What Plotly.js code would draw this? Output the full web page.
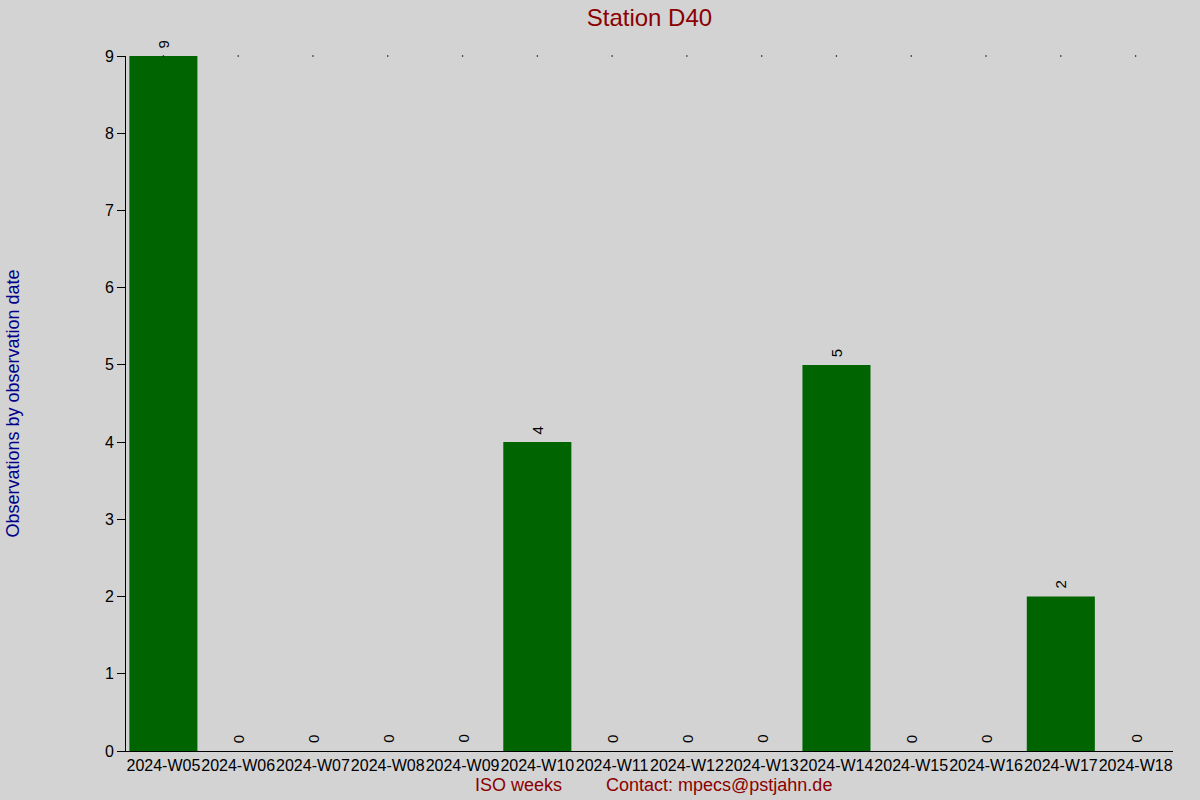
<!DOCTYPE html>
<html><head><meta charset="utf-8">
<script src="https://cdn.plot.ly/plotly-3.0.1.min.js"></script>
<style>body{margin:0;background:#d3d3d3;}#c{width:1200px;height:800px;}</style>
</head><body><div id="c"></div>
<script>
const weeks = ["2024-W05","2024-W06","2024-W07","2024-W08","2024-W09","2024-W10","2024-W11","2024-W12","2024-W13","2024-W14","2024-W15","2024-W16","2024-W17","2024-W18"];
const counts = [9,0,0,0,0,4,0,0,0,5,0,0,2,0];
const yTicks = [0,1,2,3,4,5,6,7,8,9];
const chartTitle = "Station D40";
const xTitle = "ISO weeks";
const contact = "Contact: mpecs@pstjahn.de";
const yTitle = "Observations by observation date";

const ymax = Math.max(...counts);
const font = "Liberation Sans, Arial, sans-serif";

const bars = {
  type: "bar", x: weeks, y: counts,
  marker: {color: "#006400"},
  width: 0.91,
  hoverinfo: "x+y"
};
const topDots = {
  type: "scatter", mode: "markers", x: weeks, y: weeks.map(() => ymax),
  marker: {color: "#000", size: 1.5}, cliponaxis: false, hoverinfo: "skip"
};

const valueLabels = weeks.map((w, i) => ({
  x: w, y: counts[i], xref: "x", yref: "y", text: String(counts[i]),
  textangle: -90, showarrow: false, xanchor: "center", yanchor: "bottom", yshift: 6,
  font: {family: font, size: 15, color: "#000"}
}));

const layout = {
  width: 1200, height: 800,
  paper_bgcolor: "#d3d3d3", plot_bgcolor: "#d3d3d3",
  margin: {l: 126, r: 27, t: 56, b: 49},
  showlegend: false,
  font: {family: font, size: 16, color: "#000"},
  title: {text: chartTitle, font: {family: font, size: 24, color: "#8b0000"}, x: 0.5412, xanchor: "center", y: 0.978, yanchor: "middle"},
  xaxis: {
    type: "category", showline: true, linecolor: "#000", linewidth: 1,
    ticks: "", showgrid: false, zeroline: false, tickangle: 0,
    tickfont: {family: font, size: 16, color: "#000"},
    range: [-0.5, weeks.length - 0.5]
  },
  yaxis: {
    range: [0, ymax], tickvals: yTicks, ticks: "outside", ticklen: 8, tickcolor: "#000",
    showline: true, linecolor: "#000", linewidth: 1, showgrid: false, zeroline: false,
    tickfont: {family: font, size: 16, color: "#000"},
    title: {text: yTitle, font: {family: font, size: 18, color: "#00008b"}, standoff: 80}
  },
  annotations: valueLabels.concat([
    {text: xTitle, xref: "paper", yref: "paper", x: (518-126)/1047, y: -0.049, xanchor: "center", yanchor: "middle", showarrow: false, font: {family: font, size: 18, color: "#8b0000"}},
    {text: contact, xref: "paper", yref: "paper", x: (719-126)/1047, y: -0.049, xanchor: "center", yanchor: "middle", showarrow: false, font: {family: font, size: 18, color: "#8b0000"}}
  ])
};
Plotly.newPlot("c", [bars, topDots], layout, {displayModeBar: false, staticPlot: true});
</script></body></html>
